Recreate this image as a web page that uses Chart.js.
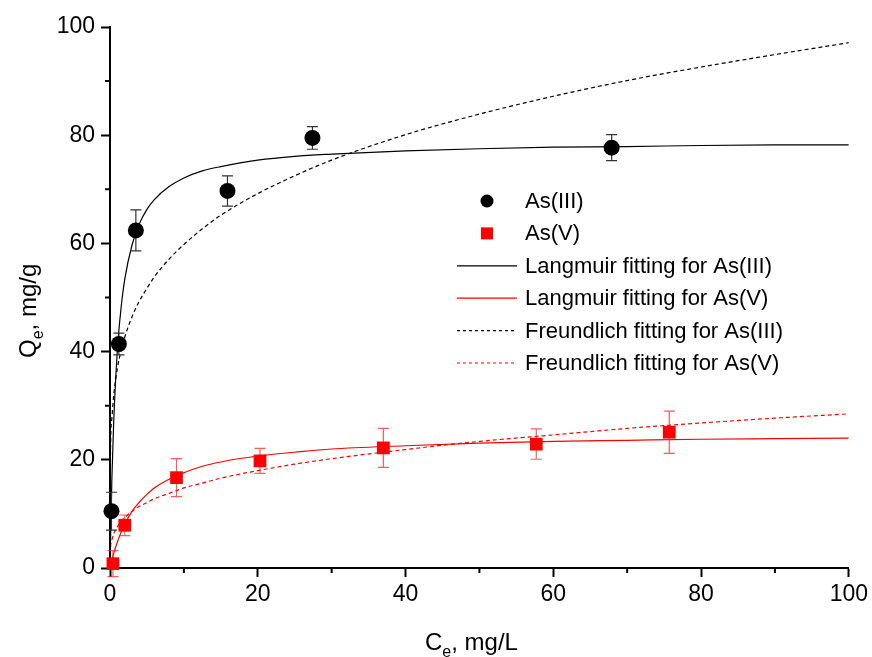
<!DOCTYPE html>
<html>
<head>
<meta charset="utf-8">
<script src="https://cdn.jsdelivr.net/npm/chart.js@4.4.1/dist/chart.umd.min.js"></script>
<style>
  html, body { margin: 0; padding: 0; background: #fff; }
  #wrap { width: 872px; height: 657px; }
</style>
</head>
<body>
<div id="wrap"><canvas id="myChart" width="872" height="657"></canvas></div>
<script>
// measured points
let as3C = [0.2, 1.2, 3.5, 15.9, 27.4, 67.9];
let as3Q = [10.5, 41.4, 62.4, 69.7, 79.5, 77.7];
let as3Err = [3.5, 2.0, 3.8, 2.8, 2.1, 2.4];

let as5C = [0.4, 2.0, 9.0, 20.3, 37.0, 57.7, 75.7];
let as5Q = [0.8, 7.9, 16.7, 19.8, 22.2, 22.9, 25.1];
let as5Err = [2.4, 1.9, 3.5, 2.3, 3.6, 2.8, 3.9];

// fitted curves
let fitC = [0, 0.05, 0.25, 0.5, 1, 1.5, 2, 3, 4, 5, 6, 8, 10, 12.5, 15, 20, 25, 30, 40, 50, 60, 70, 80, 90, 100];
let langmuir3 = [0, 3.9, 16.3, 27.0, 40.3, 48.1, 53.4, 59.8, 63.7, 66.3, 68.1, 70.5, 72.1, 73.4, 74.2, 75.4, 76.1, 76.5, 77.1, 77.5, 77.8, 77.9, 78.1, 78.2, 78.2];
let langmuir5 = [0, 0.3, 1.4, 2.7, 4.8, 6.6, 8.1, 10.5, 12.2, 13.6, 14.8, 16.4, 17.6, 18.8, 19.6, 20.7, 21.4, 22.0, 22.6, 23.1, 23.4, 23.6, 23.8, 23.9, 24.0];
let freundlich3 = [0, 19.7, 27.6, 31.9, 36.9, 40.2, 42.7, 46.5, 49.4, 51.7, 53.8, 57.1, 59.8, 62.7, 65.2, 69.2, 72.5, 75.4, 80.1, 83.9, 87.2, 90.1, 92.6, 94.9, 97.1];
let freundlich5 = [0, 3.2, 5.1, 6.3, 7.6, 8.6, 9.3, 10.5, 11.4, 12.1, 12.8, 13.8, 14.8, 15.7, 16.6, 18.0, 19.2, 20.2, 21.9, 23.4, 24.6, 25.8, 26.8, 27.7, 28.5];

let xTicks = [0, 20, 40, 60, 80, 100];
let yTicks = [0, 20, 40, 60, 80, 100];

const FONT = "'Liberation Sans', Arial, sans-serif";

function pts(xs, ys) {
  return xs.map((x, i) => ({ x: x, y: ys[i] }));
}

let errBars = {
  0: { err: as3Err, color: "#333333" },
  1: { err: as5Err, color: "rgba(240, 40, 40, 0.75)" },
};

let extras = {
  id: "extras",
  beforeDatasetDraw(chart, args) {
    let eb = errBars[args.index];
    if (!eb) return;
    let ctx = chart.ctx;
    let xs = chart.scales.x, ys = chart.scales.y;
    let data = chart.data.datasets[args.index].data;
    ctx.save();
    ctx.strokeStyle = eb.color;
    ctx.lineWidth = 1.2;
    data.forEach((p, i) => {
      let px = xs.getPixelForValue(p.x);
      let top = ys.getPixelForValue(p.y + eb.err[i]);
      let bot = ys.getPixelForValue(p.y - eb.err[i]);
      ctx.beginPath();
      ctx.moveTo(px, top); ctx.lineTo(px, bot);
      ctx.moveTo(px - 5.5, top); ctx.lineTo(px + 5.5, top);
      ctx.moveTo(px - 5.5, bot); ctx.lineTo(px + 5.5, bot);
      ctx.stroke();
    });
    ctx.restore();
  },
  afterDraw(chart) {
    let ctx = chart.ctx;
    let xs = chart.scales.x, ys = chart.scales.y;
    let area = chart.chartArea;
    ctx.save();
    // minor ticks
    ctx.strokeStyle = "#000";
    ctx.lineWidth = 2;
    ctx.beginPath();
    for (let v = 10; v < 100; v += 20) {
      let px = xs.getPixelForValue(v);
      ctx.moveTo(px, area.bottom); ctx.lineTo(px, area.bottom + 5);
      let py = ys.getPixelForValue(v);
      ctx.moveTo(area.left, py); ctx.lineTo(area.left - 5, py);
    }
    ctx.stroke();

    // axis titles with subscripts
    ctx.fillStyle = "#000";
    ctx.textBaseline = "alphabetic";
    ctx.textAlign = "left";
    let big = "24px " + FONT, small = "16px " + FONT;

    // x title
    let x0 = 425, y0 = 650;
    ctx.font = big;
    ctx.fillText("C", x0, y0);
    let w = ctx.measureText("C").width;
    ctx.font = small;
    ctx.fillText("e", x0 + w, y0 + 7);
    let w2 = ctx.measureText("e").width;
    ctx.font = big;
    ctx.fillText(", mg/L", x0 + w + w2, y0);

    // y title
    ctx.save();
    ctx.translate(36, 358);
    ctx.rotate(-Math.PI / 2);
    ctx.font = big;
    ctx.fillText("Q", 0, 0);
    w = ctx.measureText("Q").width;
    ctx.font = small;
    ctx.fillText("e", w, 7);
    w2 = ctx.measureText("e").width;
    ctx.font = big;
    ctx.fillText(", mg/g", w + w2, 0);
    ctx.restore();

    // legend
    let lx = 457, tx = 525, ly = 201, step = 32.4;
    ctx.font = "22px " + FONT;
    ctx.textBaseline = "middle";
    chart.data.datasets.forEach((ds, i) => {
      let y = ly + i * step;
      if (ds.showLine) {
        ctx.strokeStyle = ds.borderColor;
        ctx.lineWidth = 1.2;
        ctx.setLineDash(ds.borderDash ? [3, 3] : []);
        ctx.beginPath();
        ctx.moveTo(lx, y); ctx.lineTo(lx + 60, y);
        ctx.stroke();
        ctx.setLineDash([]);
      } else {
        ctx.fillStyle = ds.backgroundColor;
        if (ds.pointStyle === "rect") {
          ctx.fillRect(487 - 6, y - 6, 12, 12);
        } else {
          ctx.beginPath();
          ctx.arc(487, y, 6.5, 0, Math.PI * 2);
          ctx.fill();
        }
      }
      ctx.fillStyle = "#000";
      ctx.fillText(ds.label, tx, y + 1);
    });
    ctx.restore();
  },
};

let mychart = document.getElementById("myChart").getContext("2d");
let isoChart = new Chart(mychart, {
  type: "scatter",
  data: {
    datasets: [
      {
        label: "As(III)",
        data: pts(as3C, as3Q),
        showLine: false,
        pointStyle: "circle",
        pointRadius: 8,
        backgroundColor: "#000000",
        borderColor: "#000000",
        borderWidth: 0,
        clip: false,
      },
      {
        label: "As(V)",
        data: pts(as5C, as5Q),
        showLine: false,
        pointStyle: "rect",
        pointRadius: 9,
        backgroundColor: "#ff0000",
        borderColor: "#ff0000",
        borderWidth: 0,
        clip: false,
      },
      {
        label: "Langmuir fitting for As(III)",
        data: pts(fitC, langmuir3),
        showLine: true,
        pointRadius: 0,
        borderColor: "#000000",
        borderWidth: 1.2,
        cubicInterpolationMode: "monotone",
      },
      {
        label: "Langmuir fitting for As(V)",
        data: pts(fitC, langmuir5),
        showLine: true,
        pointRadius: 0,
        borderColor: "#ff0000",
        borderWidth: 1.2,
        cubicInterpolationMode: "monotone",
      },
      {
        label: "Freundlich fitting for As(III)",
        data: pts(fitC, freundlich3),
        showLine: true,
        pointRadius: 0,
        borderColor: "#000000",
        borderWidth: 1.2,
        borderDash: [4, 3],
        cubicInterpolationMode: "monotone",
      },
      {
        label: "Freundlich fitting for As(V)",
        data: pts(fitC, freundlich5),
        showLine: true,
        pointRadius: 0,
        borderColor: "#ff0000",
        borderWidth: 1.2,
        borderDash: [4, 3],
        cubicInterpolationMode: "monotone",
      },
    ],
  },
  options: {
    responsive: false,
    animation: false,
    layout: { padding: { top: 27, right: 22, left: 0, bottom: 0 } },
    plugins: {
      legend: { display: false },
      tooltip: { enabled: false },
    },
    scales: {
      x: {
        type: "linear",
        min: 0,
        max: 100,
        afterFit(scale) { scale.height = 89; },
        afterBuildTicks(scale) { scale.ticks = xTicks.map(v => ({ value: v })); },
        grid: { drawOnChartArea: false, drawTicks: true, tickLength: 9, tickWidth: 2, tickColor: "#000" },
        border: { display: true, color: "#000", width: 2 },
        ticks: { color: "#000", font: { family: FONT, size: 23 }, padding: 4, maxRotation: 0 },
      },
      y: {
        type: "linear",
        min: 0,
        max: 100,
        afterFit(scale) { scale.width = 110; },
        afterBuildTicks(scale) { scale.ticks = yTicks.map(v => ({ value: v })); },
        grid: { drawOnChartArea: false, drawTicks: true, tickLength: 9, tickWidth: 2, tickColor: "#000" },
        border: { display: true, color: "#000", width: 2 },
        ticks: { color: "#000", font: { family: FONT, size: 23 }, padding: 6 },
      },
    },
  },
  plugins: [extras],
});
</script>
</body>
</html>
